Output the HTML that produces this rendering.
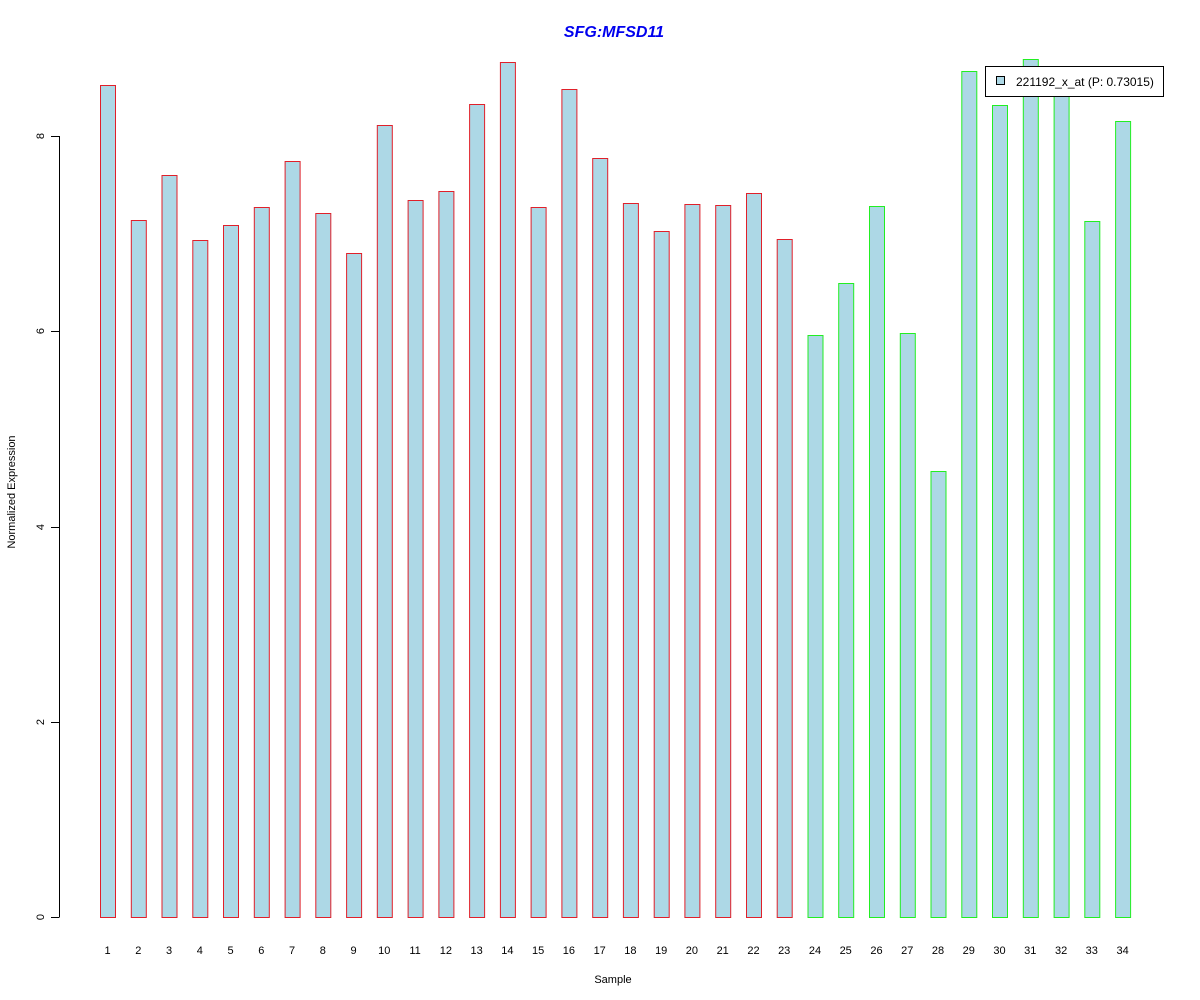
<!DOCTYPE html><html><head><meta charset="utf-8"><style>body{margin:0;background:#fff}svg{display:block}text{font-family:"Liberation Sans",Arial,sans-serif}</style></head><body>
<svg width="1200" height="1000" xmlns="http://www.w3.org/2000/svg">
<text x="614" y="37" text-anchor="middle" font-size="16" font-weight="bold" font-style="italic" fill="#0000ee">SFG:MFSD11</text>
<g stroke="#000" stroke-width="1"><line x1="59.5" y1="136" x2="59.5" y2="917"/>
<line x1="51" y1="917.5" x2="59.5" y2="917.5"/><line x1="51" y1="722.5" x2="59.5" y2="722.5"/><line x1="51" y1="527.5" x2="59.5" y2="527.5"/><line x1="51" y1="331.5" x2="59.5" y2="331.5"/><line x1="51" y1="136.5" x2="59.5" y2="136.5"/></g>
<g font-size="11" text-anchor="middle"><text transform="translate(44,917) rotate(-90)">0</text><text transform="translate(44,722) rotate(-90)">2</text><text transform="translate(44,527) rotate(-90)">4</text><text transform="translate(44,331) rotate(-90)">6</text><text transform="translate(44,136) rotate(-90)">8</text>
<text transform="translate(15,492) rotate(-90)">Normalized Expression</text>
<text x="613" y="983">Sample</text></g>
<g fill="#add8e6" stroke="#e0202a">
<rect x="100.5" y="85.5" width="15" height="832"/>
<rect x="131.3" y="220.5" width="15" height="697"/>
<rect x="162.0" y="175.5" width="15" height="742"/>
<rect x="192.8" y="240.5" width="15" height="677"/>
<rect x="223.5" y="225.5" width="15" height="692"/>
<rect x="254.3" y="207.5" width="15" height="710"/>
<rect x="285.1" y="161.5" width="15" height="756"/>
<rect x="315.8" y="213.5" width="15" height="704"/>
<rect x="346.6" y="253.5" width="15" height="664"/>
<rect x="377.3" y="125.5" width="15" height="792"/>
<rect x="408.1" y="200.5" width="15" height="717"/>
<rect x="438.9" y="191.5" width="15" height="726"/>
<rect x="469.6" y="104.5" width="15" height="813"/>
<rect x="500.4" y="62.5" width="15" height="855"/>
<rect x="531.1" y="207.5" width="15" height="710"/>
<rect x="561.9" y="89.5" width="15" height="828"/>
<rect x="592.7" y="158.5" width="15" height="759"/>
<rect x="623.4" y="203.5" width="15" height="714"/>
<rect x="654.2" y="231.5" width="15" height="686"/>
<rect x="684.9" y="204.5" width="15" height="713"/>
<rect x="715.7" y="205.5" width="15" height="712"/>
<rect x="746.5" y="193.5" width="15" height="724"/>
<rect x="777.2" y="239.5" width="15" height="678"/>
</g>
<g fill="#add8e6" stroke="#22ee22">
<rect x="808.0" y="335.5" width="15" height="582"/>
<rect x="838.7" y="283.5" width="15" height="634"/>
<rect x="869.5" y="206.5" width="15" height="711"/>
<rect x="900.3" y="333.5" width="15" height="584"/>
<rect x="931.0" y="471.5" width="15" height="446"/>
<rect x="961.8" y="71.5" width="15" height="846"/>
<rect x="992.5" y="105.5" width="15" height="812"/>
<rect x="1023.3" y="59.5" width="15" height="858"/>
<rect x="1054.1" y="85.5" width="15" height="832"/>
<rect x="1084.8" y="221.5" width="15" height="696"/>
<rect x="1115.6" y="121.5" width="15" height="796"/>
</g>
<g font-size="11" text-anchor="middle">
<text x="107.5" y="954">1</text><text x="138.3" y="954">2</text><text x="169.0" y="954">3</text><text x="199.8" y="954">4</text><text x="230.5" y="954">5</text><text x="261.3" y="954">6</text><text x="292.1" y="954">7</text><text x="322.8" y="954">8</text><text x="353.6" y="954">9</text><text x="384.3" y="954">10</text><text x="415.1" y="954">11</text><text x="445.9" y="954">12</text><text x="476.6" y="954">13</text><text x="507.4" y="954">14</text><text x="538.1" y="954">15</text><text x="568.9" y="954">16</text><text x="599.7" y="954">17</text><text x="630.4" y="954">18</text><text x="661.2" y="954">19</text><text x="691.9" y="954">20</text><text x="722.7" y="954">21</text><text x="753.5" y="954">22</text><text x="784.2" y="954">23</text><text x="815.0" y="954">24</text><text x="845.7" y="954">25</text><text x="876.5" y="954">26</text><text x="907.3" y="954">27</text><text x="938.0" y="954">28</text><text x="968.8" y="954">29</text><text x="999.5" y="954">30</text><text x="1030.3" y="954">31</text><text x="1061.1" y="954">32</text><text x="1091.8" y="954">33</text><text x="1122.6" y="954">34</text>
</g>
<rect x="985.5" y="66.5" width="178" height="30" fill="#fff" stroke="#000"/>
<rect x="996.5" y="76.5" width="8" height="8" fill="#add8e6" stroke="#000"/>
<text x="1016" y="86" font-size="12">221192_x_at (P: 0.73015)</text>
</svg></body></html>
